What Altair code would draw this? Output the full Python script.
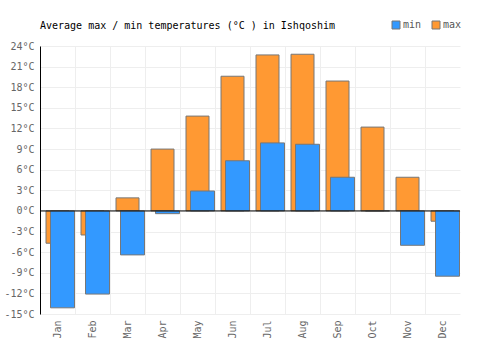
import altair as alt
import pandas as pd

months = ["Jan", "Feb", "Mar", "Apr", "May", "Jun", "Jul", "Aug", "Sep", "Oct", "Nov", "Dec"]
max_temps = [-4.7, -3.5, 1.9, 9.0, 13.8, 19.6, 22.7, 22.8, 18.9, 12.2, 4.9, -1.5]
min_temps = [-14.1, -12.1, -6.4, -0.4, 2.9, 7.3, 9.9, 9.7, 4.9, 0.0, -5.0, -9.5]
y_ticks = [-15, -12, -9, -6, -3, 0, 3, 6, 9, 12, 15, 18, 21, 24]

rows = []
for m, v in zip(months, max_temps):
    rows.append({"month": m, "series": "max", "temp": v})
for m, v in zip(months, min_temps):
    rows.append({"month": m, "series": "min", "temp": v})
df = pd.DataFrame(rows)

FONT = "DejaVu Sans Mono"

x_enc = alt.X(
    "month:N",
    sort=months,
    scale=alt.Scale(domain=months, paddingInner=0, paddingOuter=0),
    axis=alt.Axis(
        title=None, labelAngle=-90, labelColor="#666666", labelFont=FONT,
        labelFontSize=10, ticks=False, domain=False, grid=True,
        gridColor="#eeeeee", labelPadding=6, bandPosition=0,
    ),
)
y_axis = alt.Axis(
    title=None, values=y_ticks, labelExpr="datum.value + '°C'",
    labelColor="#666666", labelFont=FONT, labelFontSize=10,
    ticks=False, domain=True, domainColor="#000000", gridColor="#eeeeee",
    labelPadding=6, labelOverlap=False, labelBound=False, labelFlush=False,
)
y_scale = alt.Scale(domain=[-15, 24], nice=False, zero=False)
y_enc = alt.Y("temp:Q", scale=y_scale, axis=y_axis)
color_enc = alt.Color(
    "series:N",
    scale=alt.Scale(domain=["min", "max"], range=["#3399ff", "#ff9933"]),
    legend=alt.Legend(
        title=None, orient="none", legendX=351, legendY=-26, direction="horizontal",
        symbolType="square", symbolSize=64, symbolStrokeColor="#777777",
        symbolStrokeWidth=1, labelFont=FONT, labelFontSize=10, labelColor="#555555",
        labelOffset=2, columnPadding=8, padding=0,
    ),
)

base = alt.Chart(df)
max_bars = base.transform_filter(alt.datum.series == "max").mark_bar(
    width=23, xOffset=0, stroke="#777777", strokeWidth=1
).encode(x=x_enc, y=y_enc, color=color_enc)
min_bars = base.transform_filter(alt.datum.series == "min").mark_bar(
    width=24, xOffset=5, stroke="#777777", strokeWidth=1
).encode(x=x_enc, y=y_enc, color=color_enc)
zero = base.transform_filter(alt.datum.series == "max").transform_aggregate(
    z="min(temp)"
).transform_calculate(z="0").mark_rule(color="#000000", strokeWidth=1).encode(
    y=alt.Y("z:Q", scale=y_scale, axis=y_axis)
)

chart = alt.layer(max_bars, min_bars, zero).properties(
    width=420,
    height=268,
    padding={"left": 40, "top": 46, "right": 40, "bottom": 36},
    autosize=alt.AutoSizeParams(type="none"),
    title=alt.TitleParams(
        "Average max / min temperatures (°C ) in Ishqoshim",
        anchor="start", font=FONT, fontSize=10, fontWeight="normal",
        color="#000000", offset=-19, baseline="alphabetic", frame="group",
    ),
).configure_view(stroke=None)

chart.save("out.html", embed_options={"renderer": "svg", "actions": False})
